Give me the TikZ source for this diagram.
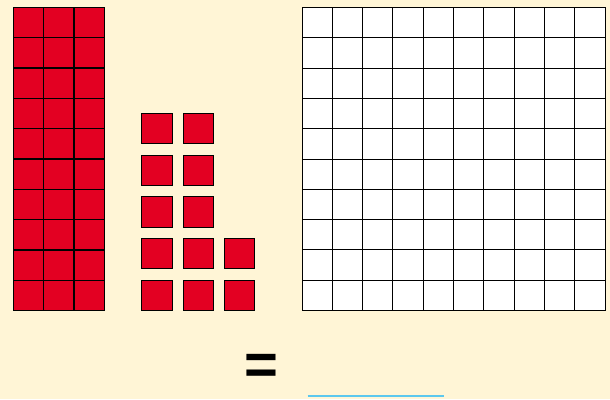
\documentclass[tikz,border=0pt]{standalone}
\usepackage{fontspec}
\setmainfont{Liberation Sans}
\definecolor{bgcream}{HTML}{FFF5D6}
\definecolor{cubered}{HTML}{E30022}
\definecolor{lineblue}{HTML}{5CC8EE}
\begin{document}
\begin{tikzpicture}[x=1pt,y=-1pt,
  redcell/.style={fill=cubered,draw=black,line width=1.3pt},
  whitecell/.style={fill=white,draw=black,line width=0.9pt},
  unitsq/.style={fill=cubered,draw=black,line width=1pt,minimum size=30.5pt,inner sep=0pt,outer sep=0pt,anchor=north west}]
\fill[bgcream] (0,0) rectangle (610,399);
\useasboundingbox (0,0) rectangle (610,399);
% red rods (3 x 10)
\foreach \i in {0,...,2}
  \foreach \j in {0,...,9}
    \draw[redcell] ({13.5+30.3*\i},{7.5+30.3*\j}) rectangle ++(30.3,30.3);
% white hundred square (10 x 10)
\foreach \i in {0,...,9}
  \foreach \j in {0,...,9}
    \draw[whitecell] ({302+30.3*\i},{7.5+30.3*\j}) rectangle ++(30.3,30.3);
% unit squares
\foreach \c/\r in {0/0,1/0,0/1,1/1,0/2,1/2,0/3,1/3,2/3,0/4,1/4,2/4}
  \node[unitsq] (u\c\r) at ({141.7+41.3*\c},{113.3+41.7*\r}) {};
% equals sign and answer line
\node[font=\fontsize{58}{58}\selectfont\bfseries,inner sep=0pt] (eq) at (261.3,369) {=};
\coordinate (la) at (307.7,396);
\coordinate (lb) at (444.3,396);
\draw[lineblue,line width=2pt] (la) -- (lb);
\end{tikzpicture}
\end{document}
